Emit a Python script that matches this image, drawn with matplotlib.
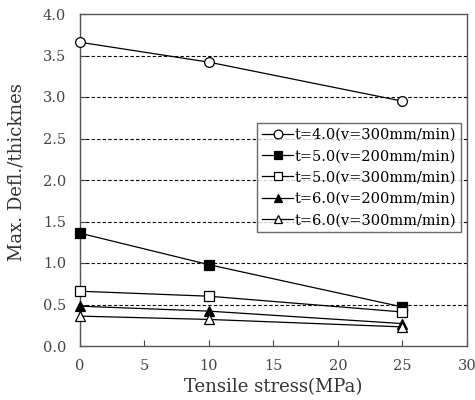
import matplotlib.pyplot as plt
import numpy as np

plt.rcParams['font.family'] = ['DejaVu Serif']

stress = [0, 10, 25]
t40_v300 = [3.66, 3.42, 2.95]
t50_v200 = [1.36, 0.98, 0.47]
t50_v300 = [0.66, 0.60, 0.41]
t60_v200 = [0.48, 0.42, 0.27]
t60_v300 = [0.36, 0.32, 0.23]
labels = ['t=4.0(v=300mm/min)', 't=5.0(v=200mm/min)', 't=5.0(v=300mm/min)',
          't=6.0(v=200mm/min)', 't=6.0(v=300mm/min)']

fig = plt.figure(figsize=(4.75, 4.0), dpi=100)
ax = fig.add_axes([0.168, 0.135, 0.815, 0.83])

series = [(t40_v300, 'o', 'white'), (t50_v200, 's', 'black'), (t50_v300, 's', 'white'),
          (t60_v200, '^', 'black'), (t60_v300, '^', 'white')]
for (vals, mk, fc), lab in zip(series, labels):
    ax.plot(stress, vals, color='black', lw=0.9, marker=mk, markersize=7,
            markerfacecolor=fc, markeredgecolor='black', markeredgewidth=0.9,
            label=lab, clip_on=False, zorder=3)

ax.set_xlim(0, 30)
ax.set_ylim(0, 4.0)
ax.set_xticks(np.arange(0, 31, 5))
ax.set_yticks(np.arange(0, 4.01, 0.5))
ax.set_yticklabels(['%.1f' % v for v in np.arange(0, 4.01, 0.5)])
for y in np.arange(0.5, 3.51, 0.5):
    ax.axhline(y, color='black', lw=0.8, ls=(0, (3, 2)), zorder=1)
ax.tick_params(direction='in', labelsize=10.5, colors='#444444', length=4)
ax.tick_params(axis='y', pad=10)
ax.tick_params(axis='x', pad=9)
for s in ax.spines.values():
    s.set_color('#555555')
    s.set_linewidth(1.0)

ax.set_xlabel('Tensile stress(MPa)', fontsize=13, color='#333333', labelpad=4)
ax.set_ylabel('Max. Defl./thicknes', fontsize=13, color='#333333')
ax.yaxis.set_label_coords(-0.14, 0.525)

leg = ax.legend(loc='upper right', bbox_to_anchor=(0.985, 0.672), fontsize=10.5,
                frameon=True, fancybox=False, edgecolor='#444444',
                handlelength=2.1, handletextpad=0.1, borderpad=0.35,
                labelspacing=0.5, borderaxespad=0, markerscale=0.9)
leg.get_frame().set_linewidth(1.0)

fig.savefig('out.png', dpi=100)
